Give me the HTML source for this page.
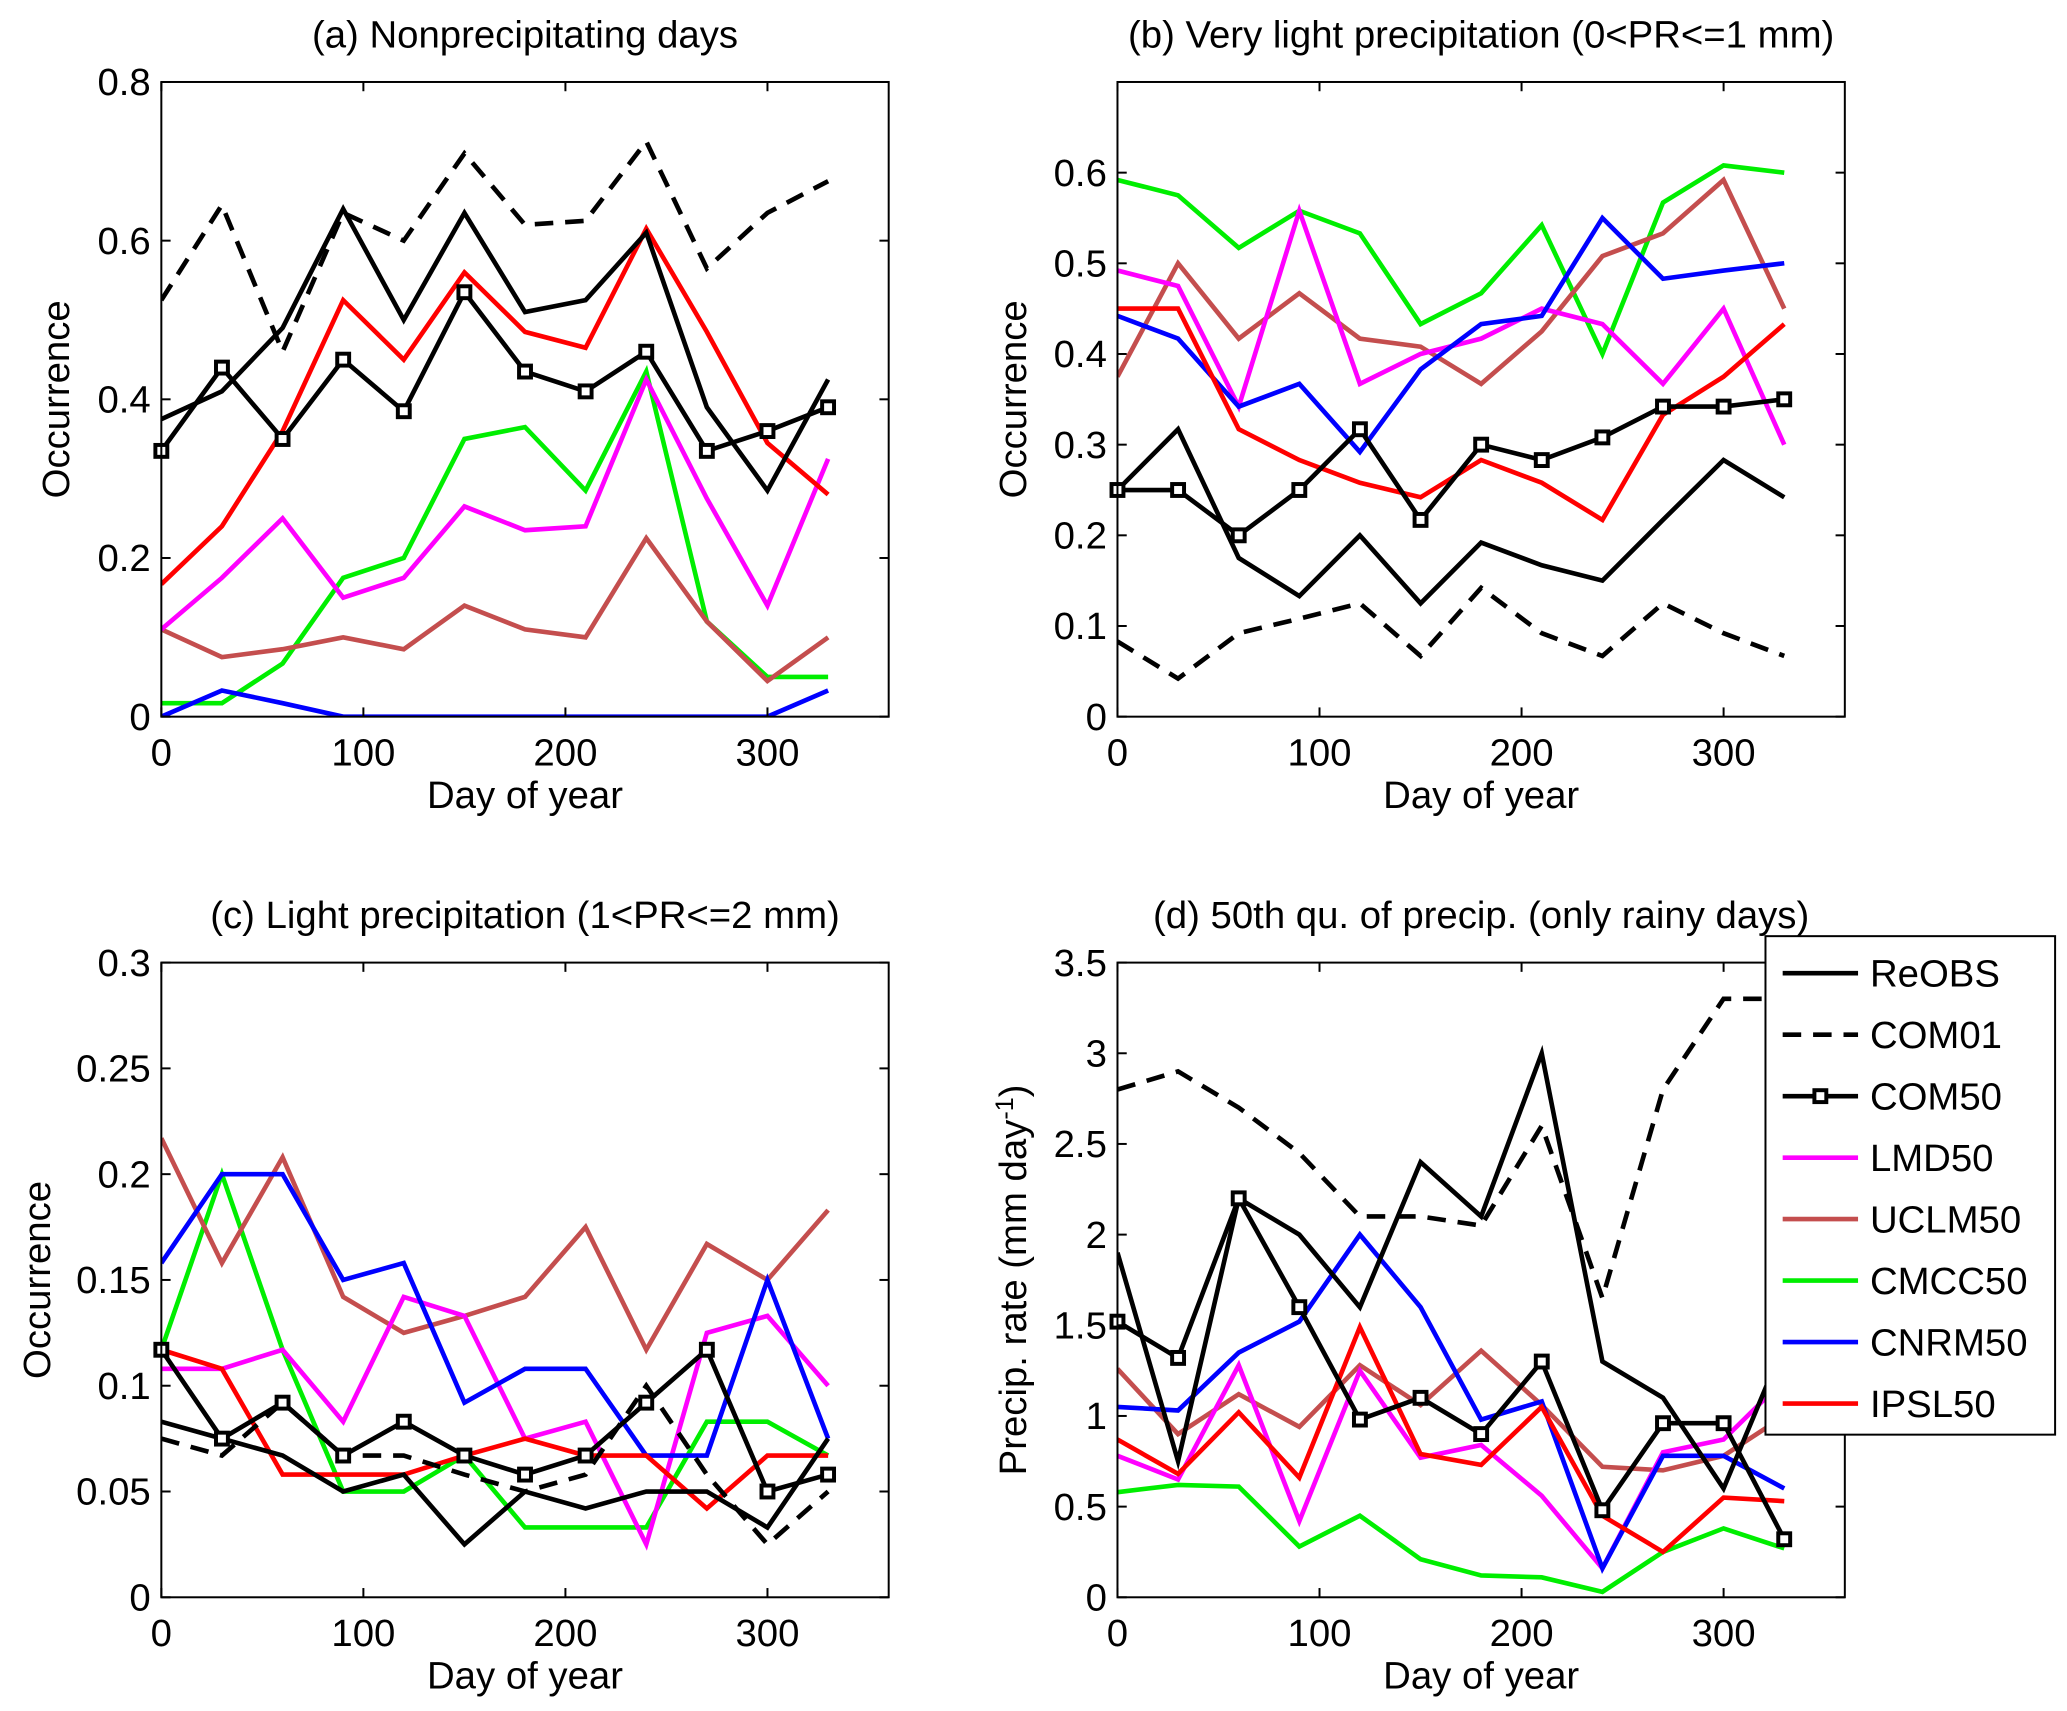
<!DOCTYPE html>
<html><head><meta charset="utf-8">
<style>html,body{margin:0;padding:0;background:#fff;}svg{display:block;font-family:"Liberation Sans",Arial,sans-serif;}</style>
</head><body>
<svg id="fig" width="2067" height="1711" viewBox="0 0 1563 1294" preserveAspectRatio="none" xmlns="http://www.w3.org/2000/svg">
<rect width="1563" height="1294" fill="#fff"/>
</svg>
<script>
const days = [0,30,60,90,120,150,180,210,240,270,300,330];
const seriesNames = ["ReOBS","COM01","COM50","LMD50","UCLM50","CMCC50","CNRM50","IPSL50"];
const seriesColors = ["#000","#000","#000","#ff00ff","#c44e4e","#00ee00","#0000ff","#ff0000"];

const aReOBS=[0.375,0.41,0.49,0.64,0.50,0.635,0.51,0.525,0.61,0.39,0.285,0.425];
const aCOM01=[0.525,0.645,0.46,0.635,0.60,0.71,0.62,0.625,0.725,0.565,0.635,0.675];
const aCOM50=[0.335,0.44,0.35,0.45,0.385,0.535,0.435,0.41,0.46,0.335,0.36,0.39];
const aLMD50=[0.11,0.175,0.25,0.15,0.175,0.265,0.235,0.24,0.425,0.275,0.14,0.325];
const aUCLM50=[0.11,0.075,0.085,0.10,0.085,0.14,0.11,0.10,0.225,0.12,0.045,0.10];
const aCMCC50=[0.017,0.017,0.067,0.175,0.20,0.35,0.365,0.285,0.435,0.12,0.05,0.05];
const aCNRM50=[0,0.033,0.017,0,0,0,0,0,0,0,0,0.033];
const aIPSL50=[0.167,0.24,0.36,0.525,0.45,0.56,0.485,0.465,0.615,0.485,0.345,0.28];

const bReOBS=[0.25,0.317,0.175,0.133,0.20,0.125,0.192,0.167,0.15,0.217,0.283,0.242];
const bCOM01=[0.083,0.042,0.092,0.108,0.125,0.067,0.142,0.092,0.067,0.125,0.092,0.067];
const bCOM50=[0.25,0.25,0.20,0.25,0.317,0.217,0.30,0.283,0.308,0.342,0.342,0.35];
const bLMD50=[0.492,0.475,0.342,0.558,0.367,0.40,0.417,0.45,0.433,0.367,0.45,0.30];
const bUCLM50=[0.375,0.50,0.417,0.467,0.417,0.408,0.367,0.425,0.508,0.533,0.592,0.45];
const bCMCC50=[0.592,0.575,0.517,0.558,0.533,0.433,0.467,0.542,0.40,0.567,0.608,0.60];
const bCNRM50=[0.442,0.417,0.342,0.367,0.292,0.383,0.433,0.442,0.55,0.483,0.492,0.50];
const bIPSL50=[0.45,0.45,0.317,0.283,0.258,0.242,0.283,0.258,0.217,0.333,0.375,0.433];

const cReOBS=[0.083,0.075,0.067,0.05,0.058,0.025,0.05,0.042,0.05,0.05,0.033,0.075];
const cCOM01=[0.075,0.067,0.092,0.067,0.067,0.058,0.05,0.058,0.10,0.058,0.025,0.05];
const cCOM50=[0.117,0.075,0.092,0.067,0.083,0.067,0.058,0.067,0.092,0.117,0.05,0.058];
const cLMD50=[0.108,0.108,0.117,0.083,0.142,0.133,0.075,0.083,0.025,0.125,0.133,0.10];
const cUCLM50=[0.217,0.158,0.208,0.142,0.125,0.133,0.142,0.175,0.117,0.167,0.15,0.183];
const cCMCC50=[0.117,0.20,0.117,0.05,0.05,0.067,0.033,0.033,0.033,0.083,0.083,0.067];
const cCNRM50=[0.158,0.20,0.20,0.15,0.158,0.092,0.108,0.108,0.067,0.067,0.15,0.075];
const cIPSL50=[0.117,0.108,0.058,0.058,0.058,0.067,0.075,0.067,0.067,0.042,0.067,0.067];

const dReOBS=[1.9,0.75,2.2,2.0,1.6,2.4,2.1,3.0,1.3,1.1,0.6,1.4];
const dCOM01=[2.8,2.9,2.7,2.45,2.1,2.1,2.05,2.6,1.65,2.8,3.3,3.3];
const dCOM50=[1.52,1.32,2.2,1.6,0.98,1.1,0.9,1.3,0.48,0.96,0.96,0.32];
const dLMD50=[0.78,0.65,1.28,0.42,1.25,0.77,0.84,0.56,0.16,0.8,0.87,1.2];
const dUCLM50=[1.26,0.9,1.12,0.94,1.28,1.06,1.36,1.06,0.72,0.7,0.78,1.0];
const dCMCC50=[0.58,0.62,0.61,0.28,0.45,0.21,0.12,0.11,0.03,0.25,0.38,0.27];
const dCNRM50=[1.05,1.03,1.35,1.52,2.0,1.6,0.98,1.08,0.16,0.78,0.78,0.6];
const dIPSL50=[0.87,0.68,1.02,0.66,1.49,0.79,0.73,1.05,0.45,0.25,0.55,0.53];

const xTicks=[0,100,200,300];
const aYTicks=["0","0.2","0.4","0.6","0.8"];
const bYTicks=["0","0.1","0.2","0.3","0.4","0.5","0.6"];
const cYTicks=["0","0.05","0.1","0.15","0.2","0.25","0.3"];
const dYTicks=["0","0.5","1","1.5","2","2.5","3","3.5"];

const NS="http://www.w3.org/2000/svg";
const svg=document.getElementById('fig');
function mk(tag,attrs,parent){const e=document.createElementNS(NS,tag);for(const k in attrs)e.setAttribute(k,attrs[k]);(parent||svg).appendChild(e);return e;}
const FS=29;
const panels=[
 {id:"a",L:122,T:62,R:672,B:542,ymax:0.8,ticks:aYTicks,title:"(a) Nonprecipitating days",ylab:"Occurrence",data:[aReOBS,aCOM01,aCOM50,aLMD50,aUCLM50,aCMCC50,aCNRM50,aIPSL50]},
 {id:"b",L:845,T:62,R:1395,B:542,ymax:0.7,ticks:bYTicks,title:"(b) Very light precipitation (0<PR<=1 mm)",ylab:"Occurrence",data:[bReOBS,bCOM01,bCOM50,bLMD50,bUCLM50,bCMCC50,bCNRM50,bIPSL50]},
 {id:"c",L:122,T:728,R:672,B:1208,ymax:0.3,ticks:cYTicks,title:"(c) Light precipitation (1<PR<=2 mm)",ylab:"Occurrence",data:[cReOBS,cCOM01,cCOM50,cLMD50,cUCLM50,cCMCC50,cCNRM50,cIPSL50]},
 {id:"d",L:845,T:728,R:1395,B:1208,ymax:3.5,ticks:dYTicks,title:"(d) 50th qu. of precip. (only rainy days)",ylab:"precip",data:[dReOBS,dCOM01,dCOM50,dLMD50,dUCLM50,dCMCC50,dCNRM50,dIPSL50]}
];

panels.forEach(p=>{
 const g=mk('g',{});
 
 
 const xs=v=>p.L+(v/360)*(p.R-p.L);
 const ys=v=>p.B-(v/p.ymax)*(p.B-p.T);
 const clipId='clip'+p.id;
 const cp=mk('clipPath',{id:clipId},g);mk('rect',{x:p.L,y:p.T,width:p.R-p.L,height:p.B-p.T},cp);
 const order=[5,4,3,6,7,1,0,2];
 order.forEach(i=>{
  const vals=p.data[i];
  const pts=vals.map((v,k)=>xs(days[k]).toFixed(1)+','+ys(v).toFixed(1)).join(' ');
  const pl=mk('polyline',{points:pts,fill:'none',stroke:seriesColors[i],'stroke-width':3.5,'stroke-linejoin':'miter','clip-path':'url(#'+clipId+')'},g);
  if(i===1)pl.setAttribute('stroke-dasharray','14,9');
  
  
  if(i===2){vals.forEach((v,k)=>{
   const r=mk('rect',{x:xs(days[k])-4.5,y:ys(v)-4.5,width:9,height:9,fill:'#fff',stroke:'#000','stroke-width':3},g);
   
   
  });}
 });
 const box=mk('rect',{x:p.L,y:p.T,width:p.R-p.L,height:p.B-p.T,fill:'none',stroke:'#000','stroke-width':1.5},g);
 
 
 xTicks.forEach(t=>{
  const x=xs(t);
  mk('line',{x1:x,y1:p.B,x2:x,y2:p.B-7,stroke:'#000','stroke-width':1.5},g);
  mk('line',{x1:x,y1:p.T,x2:x,y2:p.T+7,stroke:'#000','stroke-width':1.5},g);
  const tx=mk('text',{x:x,y:p.B+37,'font-size':FS,'text-anchor':'middle'},g);tx.textContent=t;
  
  
 });
 p.ticks.forEach(t=>{
  const y=ys(parseFloat(t));
  mk('line',{x1:p.L,y1:y,x2:p.L+7,y2:y,stroke:'#000','stroke-width':1.5},g);
  mk('line',{x1:p.R,y1:y,x2:p.R-7,y2:y,stroke:'#000','stroke-width':1.5},g);
  const tx=mk('text',{x:p.L-8,y:y+10,'font-size':FS,'text-anchor':'end'},g);tx.textContent=t;
  
  
 });
 const ti=mk('text',{x:(p.L+p.R)/2,y:p.T-26,'font-size':FS,'text-anchor':'middle'},g);ti.textContent=p.title;
 
 
 const xl=mk('text',{x:(p.L+p.R)/2,y:p.B+69,'font-size':FS,'text-anchor':'middle'},g);xl.textContent='Day of year';
 
 
 const yx=p.id==='a'?52:(p.id==='c'?38:776);
 const yl=mk('text',{x:yx,y:(p.T+p.B)/2,'font-size':FS,'text-anchor':'middle',transform:'rotate(-90 '+yx+' '+((p.T+p.B)/2)+')'},g);
 if(p.ylab==='precip'){yl.innerHTML='Precip. rate (mm day<tspan dy="-10" font-size="19">-1</tspan><tspan dy="10">)</tspan>';}
 else yl.textContent=p.ylab;
 
 
});

const lg=mk('g',{});


mk('rect',{x:1335,y:708,width:219,height:377,fill:'#fff',stroke:'#000','stroke-width':1.5},lg);
seriesNames.forEach((n,i)=>{
 const y=736+i*46.5;
 const e=mk('g',{},lg);
 
 
 const ln=mk('line',{x1:1348,y1:y,x2:1405,y2:y,stroke:seriesColors[i],'stroke-width':3.5},e);
 if(i===1)ln.setAttribute('stroke-dasharray','14,9');
 if(i===2)mk('rect',{x:1372,y:y-4.5,width:9,height:9,fill:'#fff',stroke:'#000','stroke-width':3},e);
 const t=mk('text',{x:1414,y:y+10,'font-size':FS},e);t.textContent=n;
});
</script>
</body></html>
